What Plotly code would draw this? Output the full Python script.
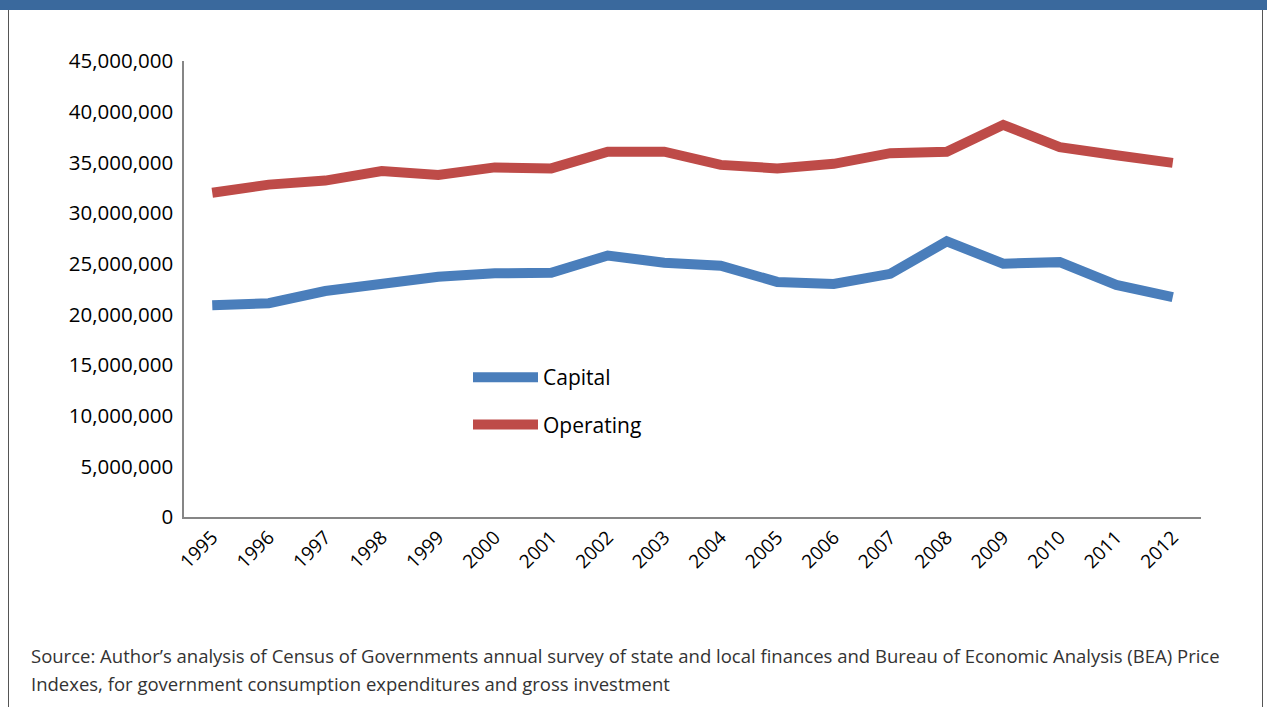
import plotly.graph_objects as go

years = [str(y) for y in range(1995, 2013)]
capital = [20.9e6, 21.1e6, 22.3e6, 23.1e6, 23.7e6, 24.05e6, 24.1e6, 25.8e6, 25.1e6, 24.8e6,
           23.2e6, 23.0e6, 24.0e6, 27.2e6, 25.0e6, 25.15e6, 22.9e6, 21.7e6]
operating = [32.0e6, 32.8e6, 33.2e6, 34.15e6, 33.75e6, 34.5e6, 34.4e6, 36.05e6, 36.05e6, 34.75e6,
             34.4e6, 34.85e6, 35.9e6, 36.05e6, 38.7e6, 36.5e6, 35.7e6, 34.95e6]
y_ticks = list(range(0, 45000001, 5000000))
y_ticklabels = [f"{v:,}" for v in y_ticks]
source_lines = ["Source: Author\u2019s analysis of Census of Governments annual survey of state and local finances and Bureau of Economic Analysis (BEA) Price",
                "Indexes, for government consumption expenditures and gross investment"]

W, H = 1267, 707
fig = go.Figure()
fig.add_trace(go.Scatter(x=years, y=capital, mode="lines", name="Capital", legendgroup="a",
                         line=dict(color="#4A7EBB", width=10)))
fig.add_trace(go.Scatter(x=years, y=operating, mode="lines", name="Operating", legendgroup="b",
                         line=dict(color="#BE4B48", width=10)))

font = "Open Sans, Noto Sans, sans-serif"
fig.update_layout(
    width=W, height=H,
    margin=dict(l=0, r=0, t=0, b=0, pad=0, autoexpand=False),
    paper_bgcolor="white", plot_bgcolor="white",
    font=dict(family=font, color="#000000"),
    showlegend=True,
    legend=dict(x=468 / W, y=1 - 357 / H, xanchor="left", yanchor="top",
                font=dict(size=21, family=font), itemwidth=65,
                tracegroupgap=17, traceorder="grouped", bgcolor="rgba(0,0,0,0)"),
    xaxis=dict(domain=[184 / W, 1201 / W], type="category", range=[-0.5, 17.5],
               showgrid=False, automargin=False,
               showline=True, linecolor="#868686", linewidth=1.5, ticks="",
               tickangle=-45, tickfont=dict(size=19, family=font), zeroline=False),
    yaxis=dict(domain=[(H - 517) / H, (H - 61) / H], range=[0, 45000000], automargin=False,
               tickvals=y_ticks, ticktext=y_ticklabels, showgrid=False,
               showline=True, linecolor="#868686", linewidth=1.5, ticks="",
               tickfont=dict(size=20.5, family=font), zeroline=False, ticklabelstandoff=5),
    shapes=[
        dict(type="rect", xref="paper", yref="paper", x0=0, x1=1, y0=1 - 10 / H, y1=1,
             fillcolor="#3A699D", line=dict(width=0)),
        dict(type="line", xref="paper", yref="paper", x0=8.5 / W, x1=8.5 / W, y0=0, y1=1 - 10 / H,
             line=dict(color="#555555", width=1)),
        dict(type="line", xref="paper", yref="paper", x0=1262.5 / W, x1=1262.5 / W, y0=0, y1=1 - 10 / H,
             line=dict(color="#555555", width=1)),
    ],
    annotations=[
        dict(text=line, xref="paper", yref="paper", x=29 / W, y=1 - yc / H,
             xanchor="left", yanchor="middle", align="left", showarrow=False,
             font=dict(size=18.5, family=font, color="#333333"))
        for line, yc in zip(source_lines, [655, 683])
    ],
)
fig.write_html("out.html")
